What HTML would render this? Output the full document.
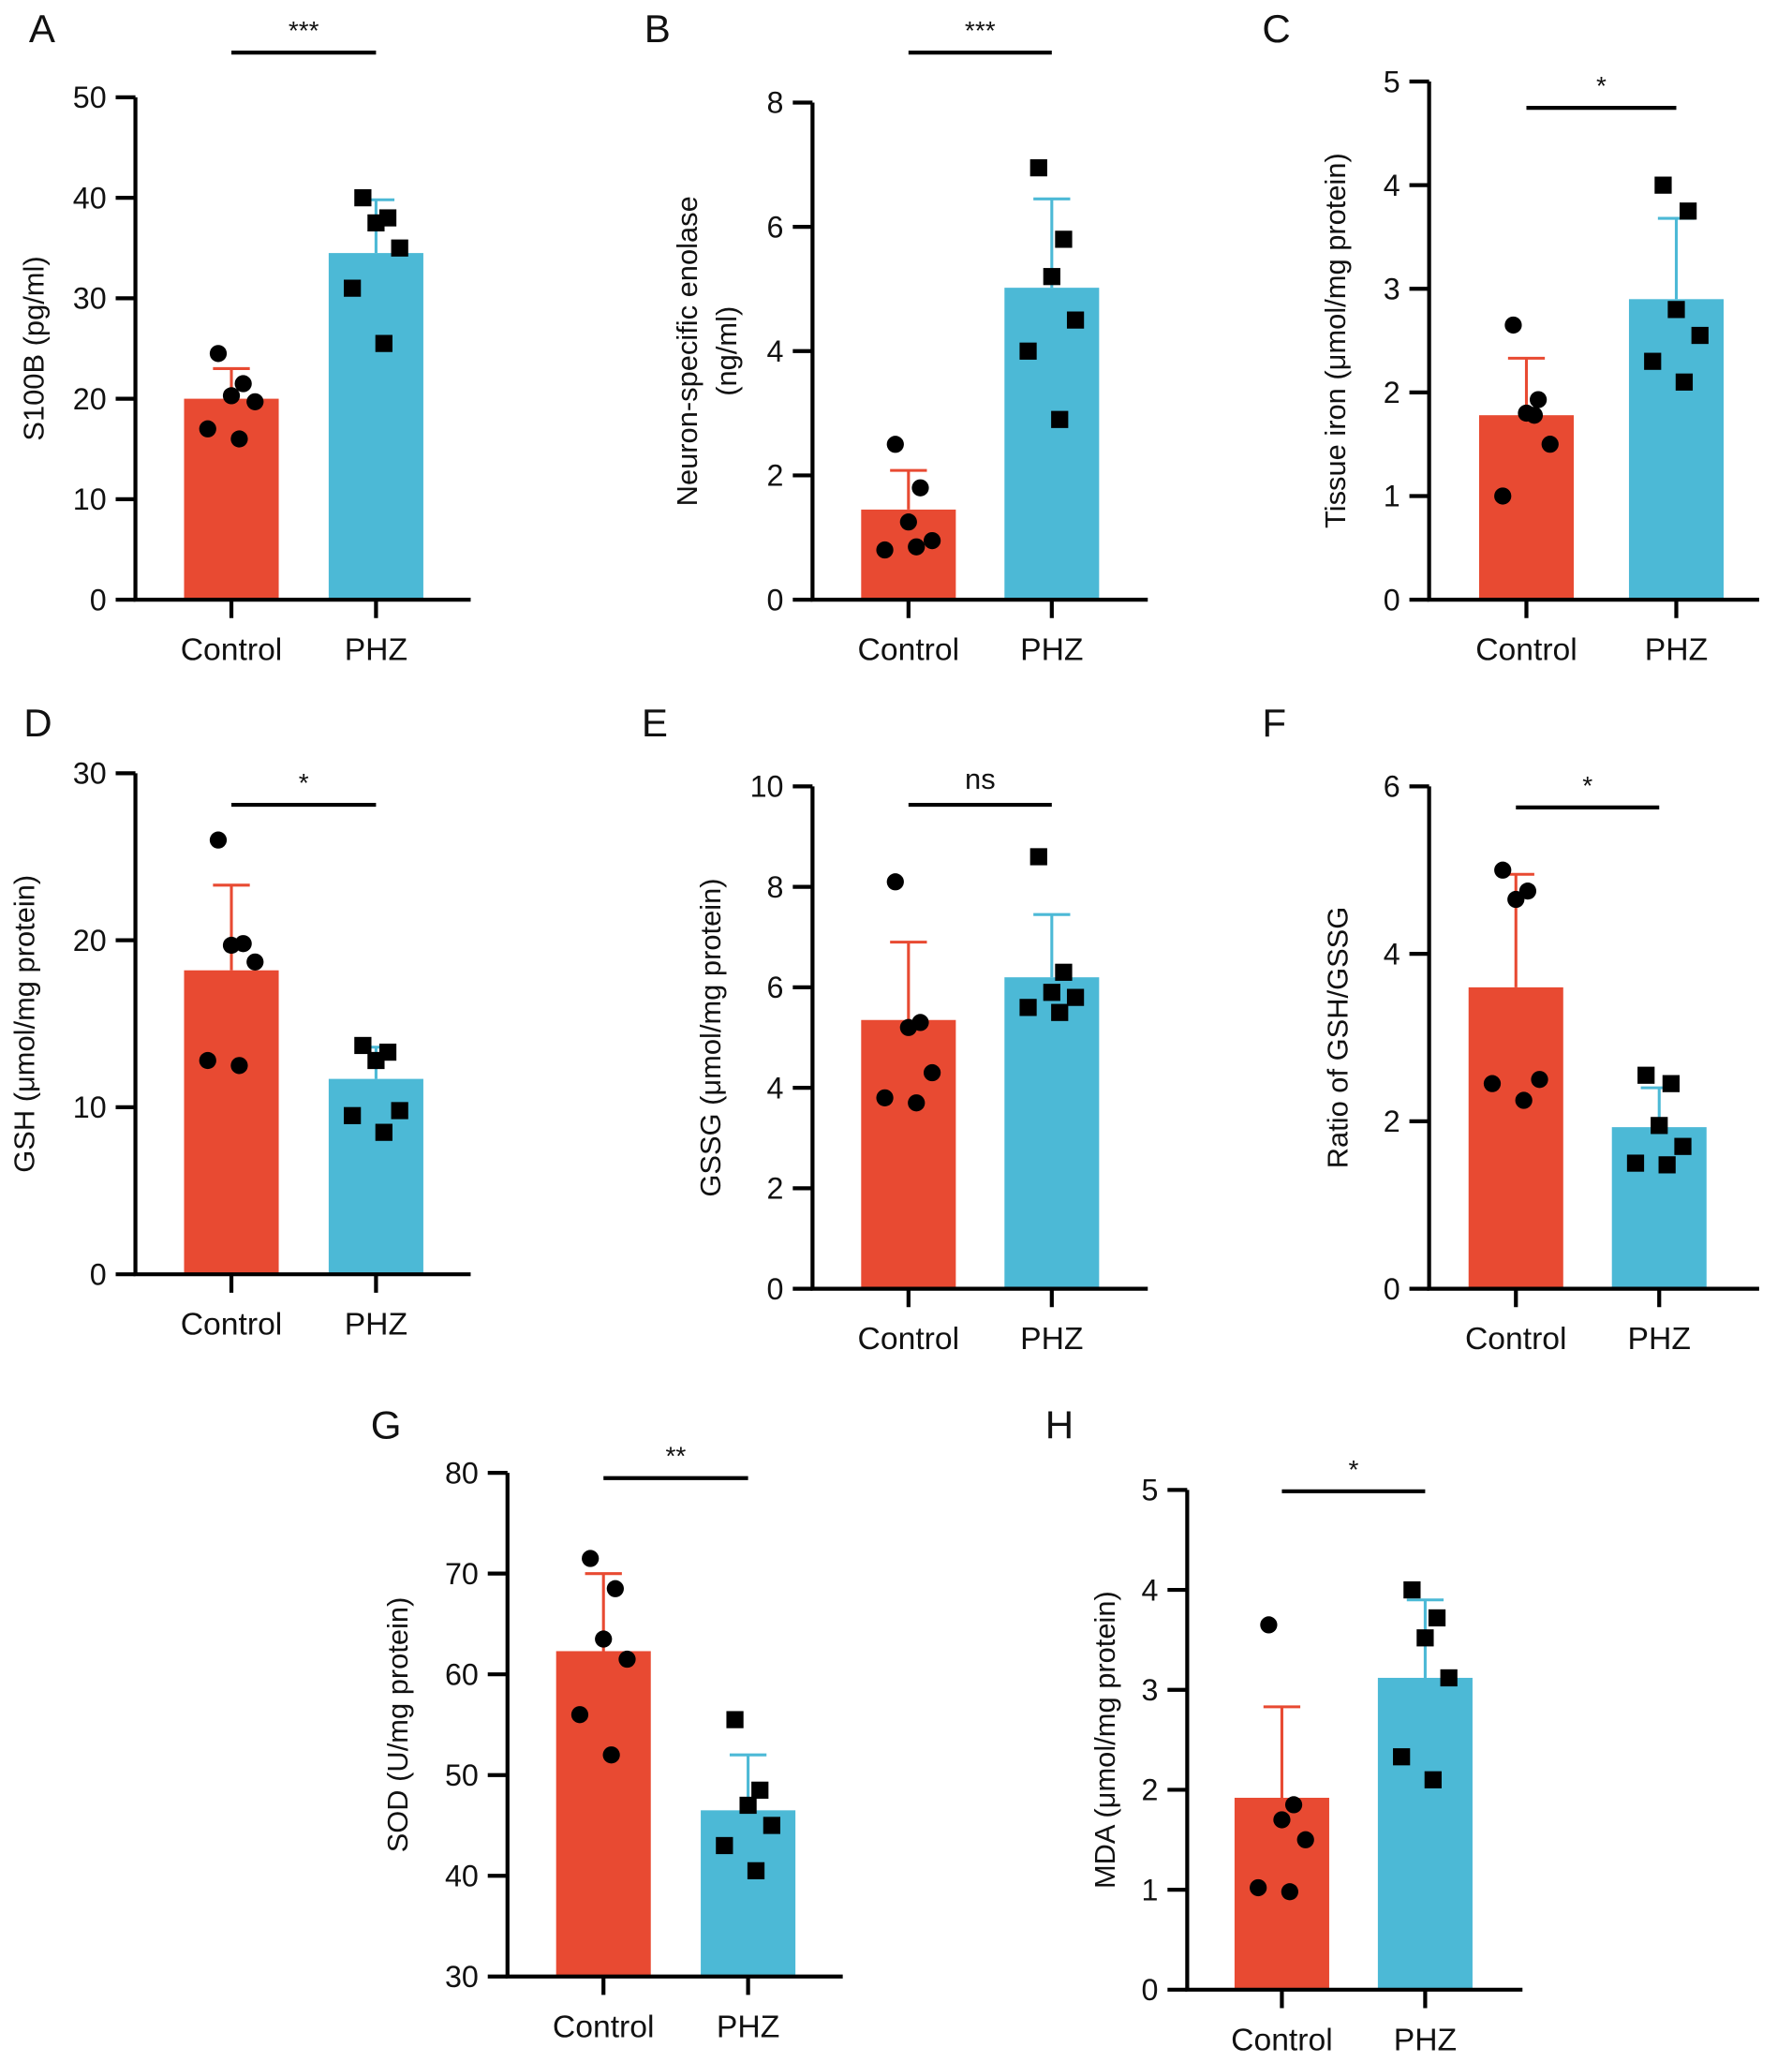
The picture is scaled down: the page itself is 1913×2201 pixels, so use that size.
<!DOCTYPE html>
<html><head><meta charset="utf-8">
<style>
html,body{margin:0;padding:0;background:#fff;}
svg{display:block;}
text{font-family:"Liberation Sans",Arial,sans-serif;fill:#111;}
</style></head>
<body>
<svg id="fig" width="1913" height="2201" viewBox="0 0 1363 1568" preserveAspectRatio="none" xmlns="http://www.w3.org/2000/svg"></svg>
<script>
// ---- data ----
const categories = ["Control", "PHZ"];
const panelLetters = ["A","B","C","D","E","F","G","H"];
const yTitles = [["S100B (pg/ml)"],["Neuron-specific enolase","(ng/ml)"],["Tissue iron (μmol/mg protein)"],["GSH (μmol/mg protein)"],["GSSG (μmol/mg protein)"],["Ratio of GSH/GSSG"],["SOD (U/mg protein)"],["MDA (μmol/mg protein)"]];
const yTicksA = [0,10,20,30,40,50];
const yTicksB = [0,2,4,6,8];
const yTicksC = [0,1,2,3,4,5];
const yTicksD = [0,10,20,30];
const yTicksE = [0,2,4,6,8,10];
const yTicksF = [0,2,4,6];
const yTicksG = [30,40,50,60,70,80];
const yTicksH = [0,1,2,3,4,5];
const significance = ["***","***","*","*","ns","*","**","*"];
const controlMeans = [20, 1.45, 1.78, 18.2, 5.35, 3.6, 62.3, 1.92];
const controlErrTop = [23, 2.08, 2.33, 23.3, 6.9, 4.95, 70, 2.83];
const phzMeans = [34.5, 5.02, 2.9, 11.7, 6.2, 1.93, 46.5, 3.12];
const phzErrTop = [39.8, 6.45, 3.68, 13.6, 7.45, 2.4, 52, 3.9];
const controlPoints = [
 [24.5,21.5,20.3,19.7,17,16],
 [2.5,1.8,1.25,0.95,0.8,0.85],
 [2.65,1.93,1.8,1.5,1.0,1.78],
 [26,19.8,19.7,18.7,12.8,12.5],
 [8.1,5.3,5.2,4.3,3.8,3.7],
 [5.0,4.75,4.65,2.5,2.45,2.25],
 [71.5,68.5,63.5,61.5,56,52],
 [3.65,1.85,1.7,1.5,1.02,0.98]];
const phzPoints = [
 [40,38,37.5,35,31,25.5],
 [6.95,5.8,5.2,4.5,4.0,2.9],
 [4.0,3.75,2.8,2.55,2.3,2.1],
 [13.7,13.3,12.8,9.8,9.5,8.5],
 [8.6,6.3,5.9,5.8,5.6,5.5],
 [2.55,2.45,1.95,1.7,1.5,1.48],
 [55.5,48.5,47,45,43,40.5],
 [4.0,3.72,3.52,3.12,2.33,2.1]];
// ---- layout ----
const tickSets=[yTicksA,yTicksB,yTicksC,yTicksD,yTicksE,yTicksF,yTicksG,yTicksH];
const layout=[
 {ax:103,top:74,bot:456,right:358,c1:176,c2:286,sig:40,lx:22,ly:32,tx:25},
 {ax:618,top:78,bot:456,right:873,c1:691,c2:800,sig:40,lx:490,ly:32,tx:522},
 {ax:1087,top:62,bot:456,right:1338,c1:1161,c2:1275,sig:82,lx:960,ly:32,tx:1015},
 {ax:103,top:588,bot:969,right:358,c1:176,c2:286,sig:612,lx:18,ly:560,tx:18},
 {ax:618,top:598,bot:980,right:873,c1:691,c2:800,sig:612,lx:488,ly:560,tx:540},
 {ax:1087,top:598,bot:980,right:1338,c1:1153,c2:1262,sig:614,lx:960,ly:560,tx:1017},
 {ax:386,top:1120,bot:1503,right:641,c1:459,c2:569,sig:1124,lx:282,ly:1094,tx:302},
 {ax:903,top:1133,bot:1513,right:1158,c1:975,c2:1084,sig:1134,lx:795,ly:1094,tx:840}];
const jitter=[-10,9,0,18,-18,6];
const RED="#E84A32", BLUE="#4CB9D6";
const svg=document.getElementById('fig');
const NS="http://www.w3.org/2000/svg";
function mk(tag,attrs,parent){const e=document.createElementNS(NS,tag);for(const k in attrs)e.setAttribute(k,attrs[k]);(parent||svg).appendChild(e);return e;}
function txt(s,attrs,parent){const e=mk('text',attrs,parent);e.textContent=s;return e;}

layout.forEach((L,i)=>{
  const ticks=tickSets[i];
  const y0=ticks[0], y1=ticks[ticks.length-1];
  const y=v=>L.bot-(v-y0)/(y1-y0)*(L.bot-L.top);
  const g=mk('g',{});
  
  
  const lt=txt(panelLetters[i],{x:L.lx,y:L.ly,'font-size':30},g);
  
  
  const bw=72;
  [[L.c1,controlMeans[i],controlErrTop[i],RED,controlPoints[i],'control',true],[L.c2,phzMeans[i],phzErrTop[i],BLUE,phzPoints[i],'phz',false]].forEach(([cx,m,e,col,pts,nm,circ])=>{
    const b=mk('rect',{x:cx-bw/2,y:y(m),width:bw,height:L.bot-y(m),fill:col},g);
    
    
    const el=mk('path',{d:`M${cx} ${y(m)}V${y(e)}M${cx-14} ${y(e)}H${cx+14}`,stroke:col,'stroke-width':2.2,fill:'none'},g);
    
    
    pts.forEach((v,k)=>{
      const px=cx+jitter[k], py=y(v);
      const p=circ?mk('circle',{cx:px,cy:py,r:6.5,fill:'#000'},g):mk('rect',{x:px-6.5,y:py-6.5,width:13,height:13,fill:'#000'},g);
      
      
    });
  });
  const ya=mk('path',{d:`M${L.ax} ${L.top}V${L.bot}`,stroke:'#000','stroke-width':3,fill:'none'},g);
  
  
  const xa=mk('path',{d:`M${L.ax-1.5} ${L.bot}H${L.right}M${L.c1} ${L.bot}v14M${L.c2} ${L.bot}v14`,stroke:'#000','stroke-width':3,fill:'none'},g);
  
  
  ticks.forEach(t=>{
    mk('path',{d:`M${L.ax-15} ${y(t)}H${L.ax}`,stroke:'#000','stroke-width':3},g);
    const tl=txt(String(t),{x:L.ax-22,y:y(t)+8,'font-size':23,'text-anchor':'end'},g);
    
    
  });
  categories.forEach((c,k)=>{
    const xl=txt(c,{x:k?L.c2:L.c1,y:L.bot+46,'font-size':24,'text-anchor':'middle'},g);
    
    
  });
  const lines=yTitles[i], mid=(L.top+L.bot)/2;
  lines.forEach((s,k)=>{
    const tx=L.tx+k*30;
    const tt=txt(s,{x:tx,y:mid,'font-size':22,'text-anchor':'middle',transform:`rotate(-90 ${tx} ${mid})`,dy:8},g);
    
    
  });
  const sl=mk('path',{d:`M${L.c1} ${L.sig}H${L.c2}`,stroke:'#000','stroke-width':3},g);
  
  
  const st=txt(significance[i],{x:(L.c1+L.c2)/2,y:significance[i]==='ns'?L.sig-12:L.sig-10,'font-size':significance[i]==='ns'?22:20,'text-anchor':'middle'},g);
  
  
});
</script>
</body></html>
